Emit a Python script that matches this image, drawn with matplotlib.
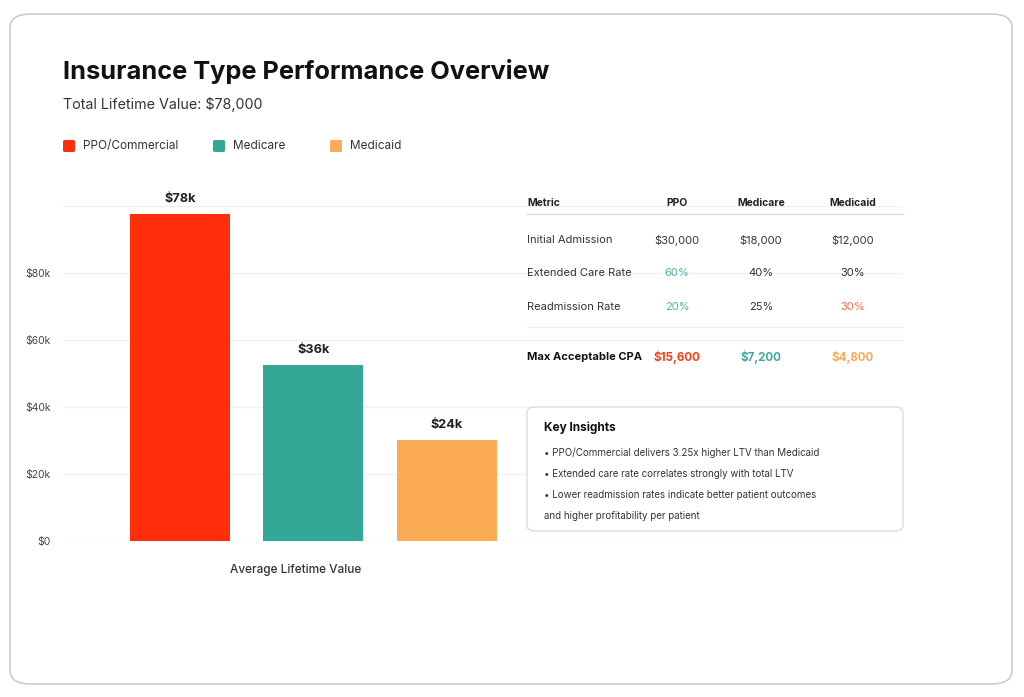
import matplotlib.pyplot as plt
from matplotlib.patches import FancyBboxPatch
from matplotlib.lines import Line2D

# data
plans = ['PPO/Commercial', 'Medicare', 'Medicaid']
bar_heights = [97500, 52500, 30000]
bar_labels = ['$78k', '$36k', '$24k']
colors = ['#FF2E0A', '#33A896', '#FCAB55']

table_cols = ['PPO', 'Medicare', 'Medicaid']
table_rows = ['Initial Admission', 'Extended Care Rate', 'Readmission Rate']
table_vals = [['$30,000', '$18,000', '$12,000'],
              ['60%', '40%', '30%'],
              ['20%', '25%', '30%']]
table_colors = [['#333333', '#333333', '#333333'],
                ['#4DB3A5', '#333333', '#333333'],
                ['#4DB3A5', '#333333', '#FF6A4D']]
cpa_vals = ['$15,600', '$7,200', '$4,800']
cpa_colors = ['#FF3D1A', '#3DAA99', '#FCAB55']

insights = ['• PPO/Commercial delivers 3.25x higher LTV than Medicaid',
            '• Extended care rate correlates strongly with total LTV',
            '• Lower readmission rates indicate better patient outcomes',
            'and higher profitability per patient']

plt.rcParams['font.family'] = ['Inter', 'DejaVu Sans']

W, H = 1024, 697
fig = plt.figure(figsize=(W / 100, H / 100), dpi=100)
fig.patch.set_facecolor('white')


def fx(x):
    return x / W


def fy(y):
    return 1 - y / H


# card border
card = FancyBboxPatch((fx(10), fy(684)), fx(1012) - fx(10), fy(14) - fy(684),
                      boxstyle='round,pad=0,rounding_size=0.02',
                      transform=fig.transFigure, facecolor='none',
                      edgecolor='#CCCCCC', linewidth=1.2, zorder=-1)
fig.patches.append(card)

# title / subtitle
fig.text(fx(63), fy(72), 'Insurance Type Performance Overview', fontsize=18.3,
         fontweight='bold', color='#111111', va='center', ha='left')
fig.text(fx(63), fy(105), 'Total Lifetime Value: $78,000', fontsize=10.3,
         color='#333333', va='center', ha='left')

# legend
leg_x = [63, 213, 330]
for lx, name, c in zip(leg_x, plans, colors):
    sq = FancyBboxPatch((fx(lx), fy(152)), fx(12), 12 / H,
                        boxstyle='round,pad=0,rounding_size=0.002',
                        transform=fig.transFigure, facecolor=c, edgecolor='none')
    fig.patches.append(sq)
    fig.text(fx(lx + 20), fy(146), name, fontsize=8.5, color='#333333',
             va='center', ha='left')

# bar chart
ax = fig.add_axes([fx(63), fy(541), fx(903) - fx(63), (541 - 206) / H])
x = range(len(plans))
bars = ax.bar(x, bar_heights, width=0.75, color=colors, zorder=3)
for b, lab in zip(bars, bar_labels):
    ax.annotate(lab, (b.get_x() + b.get_width() / 2, b.get_height()),
                xytext=(0, 11), textcoords='offset points', ha='center',
                va='center', fontsize=9.2, fontweight='bold', color='#222222')
ax.set_xlim(-0.876, 5.42)
ax.set_ylim(0, 100000)
ax.set_yticks([0, 20000, 40000, 60000, 80000, 100000])
ax.set_yticklabels(['$0', '$20k', '$40k', '$60k', '$80k', ''])
ax.set_xticks([])
ax.tick_params(axis='y', length=0, pad=9, labelsize=7.5, labelcolor='#444444')
ax.grid(axis='y', color='#F0F0F0', linewidth=1, zorder=0)
for s in ax.spines.values():
    s.set_visible(False)
ax.set_facecolor('none')
fig.text(fx(296), fy(570), 'Average Lifetime Value', fontsize=8.5,
         color='#333333', ha='center', va='center', fontweight='medium')

# table
col_x = [677, 761, 853]
fig.text(fx(527), fy(203), 'Metric', fontsize=7.5, fontweight='bold',
         color='#222222', va='center')
for cx, name in zip(col_x, table_cols):
    fig.text(fx(cx), fy(203), name, fontsize=7.5, fontweight='bold',
             color='#222222', va='center', ha='center')
fig.lines.append(Line2D([fx(527), fx(903)], [fy(214), fy(214)],
                        transform=fig.transFigure, color='#DDDDDD', lw=1))
row_y = [240, 273, 307]
for ry, rname, vals, cols in zip(row_y, table_rows, table_vals, table_colors):
    fig.text(fx(527), fy(ry), rname, fontsize=8, color='#333333', va='center')
    for cx, v, c in zip(col_x, vals, cols):
        fig.text(fx(cx), fy(ry), v, fontsize=8, color=c, va='center',
                 ha='center')
fig.lines.append(Line2D([fx(527), fx(903)], [fy(327), fy(327)],
                        transform=fig.transFigure, color='#EEEEEE', lw=1))
fig.text(fx(527), fy(357), 'Max Acceptable CPA', fontsize=8, fontweight='bold',
         color='#111111', va='center')
for cx, v, c in zip(col_x, cpa_vals, cpa_colors):
    fig.text(fx(cx), fy(357), v, fontsize=8.3, fontweight='bold', color=c,
             va='center', ha='center')

# insights box
box = FancyBboxPatch((fx(527), fy(531)), fx(903) - fx(527), (531 - 407) / H,
                     boxstyle='round,pad=0,rounding_size=0.008',
                     transform=fig.transFigure, facecolor='white',
                     edgecolor='#DDDDDD', linewidth=1, zorder=5)
fig.patches.append(box)
fig.text(fx(544), fy(428), 'Key Insights', fontsize=8.5, fontweight='bold',
         color='#111111', va='center', zorder=6)
for i, line in enumerate(insights):
    fig.text(fx(544), fy(453 + 21 * i), line, fontsize=7, color='#333333',
             va='center', zorder=6)

plt.savefig('out.png', dpi=100, facecolor='white')
